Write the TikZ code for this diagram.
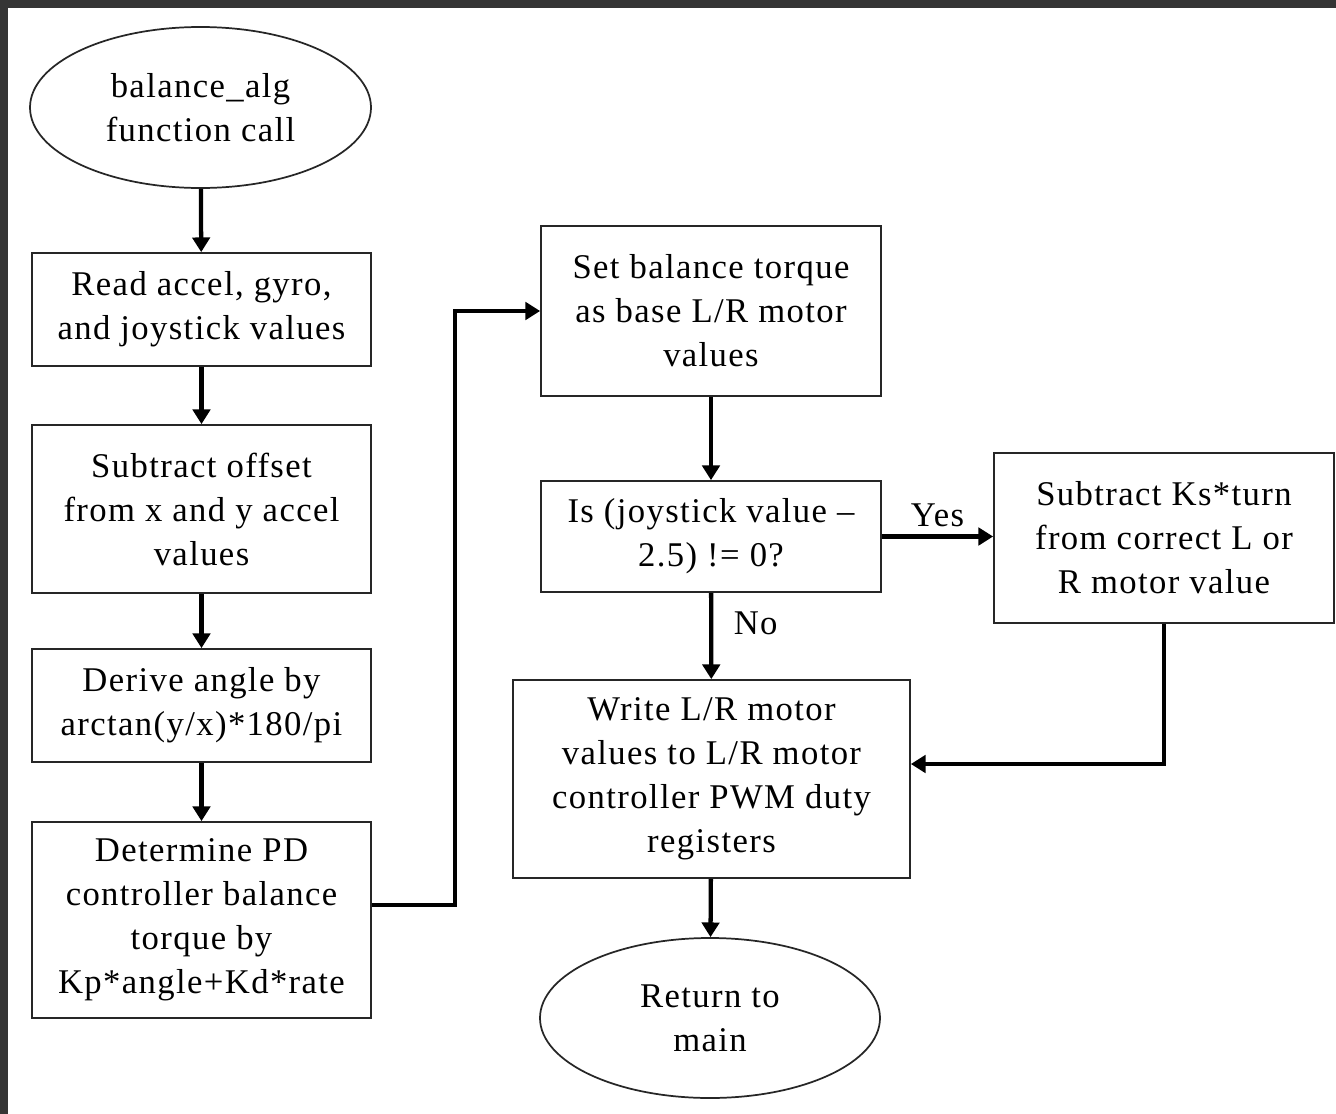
\documentclass[tikz,border=0pt]{standalone}
\usepackage{fontspec}
\setmainfont{Liberation Serif}[LetterSpace=4]
\usepackage{tikz}
\usetikzlibrary{shapes.geometric, arrows.meta, positioning, calc}

\definecolor{frame}{HTML}{353535}

\tikzset{
  box/.style={draw=black!85, line width=1.3pt, rectangle, align=center, inner sep=0pt},
  oval/.style={draw=black!85, line width=1.3pt, ellipse, align=center, inner sep=0pt},
  flow/.style={line width=3.2pt, -{Triangle[length=11pt,width=13pt]}},
  lbl/.style={font=\fontsize{26}{33}\selectfont}
}

\begin{document}
\begin{tikzpicture}[x=0.75pt, y=-0.75pt, font=\fontsize{26}{33}\selectfont]
      % frame of the screenshot
      \fill[frame] (0,0) rectangle (1336,1114);
      \fill[white] (8,8) rectangle (1336,1114);
      \useasboundingbox (0,0) rectangle (1336,1114);

      % left column
      \node[oval, minimum width=255.75pt, minimum height=120.75pt] (start) at (200.5,107.5) {balance\_alg\\function call};
      \node[box, minimum width=254.25pt, minimum height=84.75pt] (read) at (201.5,309.5) {Read accel, gyro,\\and joystick values};
      \node[box, minimum width=254.25pt, minimum height=126pt] (offset) at (201.5,509) {Subtract offset\\from x and y accel\\values};
      \node[box, minimum width=254.25pt, minimum height=84.75pt] (angle) at (201.5,705.5) {Derive angle by\\arctan(y/x)*180/pi};
      \node[box, minimum width=254.25pt, minimum height=147pt] (torque) at (201.5,920) {Determine PD\\controller balance\\torque by\\Kp*angle+Kd*rate};

      % middle and right column
      \node[box, minimum width=255pt, minimum height=127.5pt] (base) at (711,311) {Set balance torque\\as base L/R motor\\values};
      \node[box, minimum width=255pt, minimum height=83.25pt] (check) at (711,536.5) {Is (joystick value --\\2.5) != 0?};
      \node[box, minimum width=255pt, minimum height=127.5pt] (turn) at (1164,538) {Subtract Ks*turn\\from correct L or\\R motor value};
      \node[box, minimum width=297.75pt, minimum height=148.5pt] (write) at (711.5,779) {Write L/R motor\\values to L/R motor\\controller PWM duty\\registers};
      \node[oval, minimum width=255pt, minimum height=120pt] (stop) at (710,1018) {Return to\\main};

      \coordinate (bend1) at (455,905);
      \coordinate (bend2) at (455,311);
      \coordinate (bend3) at (1164,764);

      \draw[flow] (start) -- (read);
      \draw[flow] (read) -- (offset);
      \draw[flow] (offset) -- (angle);
      \draw[flow] (angle) -- (torque);
      \draw[flow] (torque.east |- bend1) -- (bend1) -- (bend2) -- (base.west);
      \draw[flow] (base) -- (check);
      \draw[flow] (check.east) -- node[above=2pt] {Yes} (turn.west |- check.east);
      \draw[flow] (check) -- node[pos=0.35, right=12pt] {No} (write);
      \draw[flow] (turn.south) -- (bend3) -- (write.east |- bend3);
      \draw[flow] (write) -- (stop);
    \end{tikzpicture}
\end{document}
